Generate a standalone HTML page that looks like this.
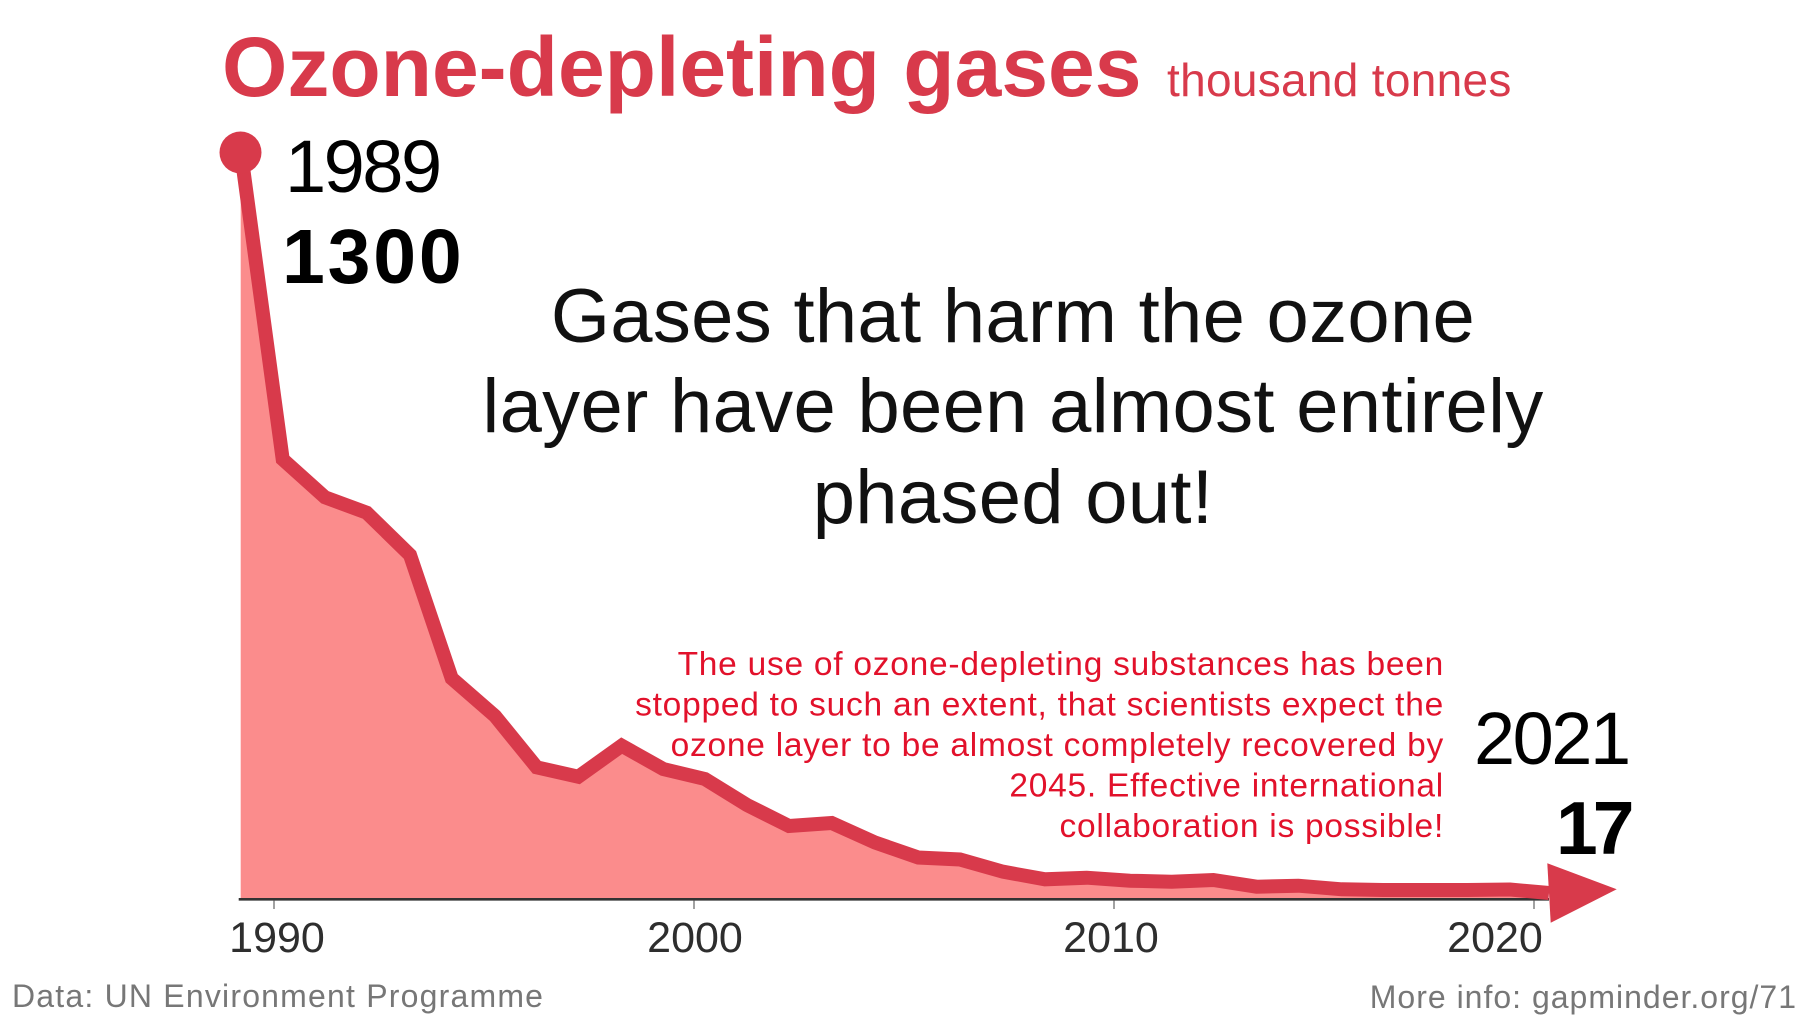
<!DOCTYPE html>
<html>
<head>
<meta charset="utf-8">
<style>
  html, body { margin: 0; padding: 0; background: #fff; }
  body { width: 1813px; height: 1020px; overflow: hidden; }
  svg { display: block; }
  text { font-family: "Liberation Sans", "DejaVu Sans", sans-serif; }
</style>
</head>
<body>
<svg width="1813" height="1020" viewBox="0 0 1813 1020" xmlns="http://www.w3.org/2000/svg">
  <rect x="0" y="0" width="1813" height="1020" fill="#ffffff"/>

  <!-- Title -->
  <text x="222" y="96" font-size="84" font-weight="bold" fill="#d83a4b">Ozone-depleting gases</text>
  <text x="1167" y="96" font-size="46" fill="#d83a4b" letter-spacing="0.3">thousand tonnes</text>

  <!-- Area fill -->
  <polygon fill="#fb8c8c" points="
    240.7,152.5 241,152.5 282.7,459.3 325,497.3 366.7,512.7 410,555 451.7,678.3 495,716
    536.7,767.3 578.3,776.7 621.7,745.7 663.3,769 705,779 747,805 789,826 831.7,823
    875,842.5 918.3,857.5 960,859.5 1003,871.7 1045,879.3 1086.7,877.7 1130,880.7
    1171.7,881.7 1213.3,880 1256.7,886.7 1298.3,885.7 1341.7,889.3 1383,890 1425,890
    1467,890 1510,889.5 1547,893 1547,899 240.7,899"/>

  <!-- Axis -->
  <line x1="238.7" y1="899.3" x2="1549" y2="899.3" stroke="#333333" stroke-width="2.6"/>
  <!-- ticks -->
  <g stroke="#8a8a8a" stroke-width="1.6">
    <line x1="274" y1="900.5" x2="274" y2="909"/>
    <line x1="694" y1="900.5" x2="694" y2="909"/>
    <line x1="1114" y1="900.5" x2="1114" y2="909"/>
    <line x1="1534" y1="900.5" x2="1534" y2="909"/>
  </g>

  <!-- Line -->
  <polyline fill="none" stroke="#d83a4b" stroke-width="14" stroke-linejoin="miter" stroke-miterlimit="4" points="
    241,152.5 282.7,459.3 325,497.3 366.7,512.7 410,555 451.7,678.3 495,716
    536.7,767.3 578.3,776.7 621.7,745.7 663.3,769 705,779 747,805 789,826 831.7,823
    875,842.5 918.3,857.5 960,859.5 1003,871.7 1045,879.3 1086.7,877.7 1130,880.7
    1171.7,881.7 1213.3,880 1256.7,886.7 1298.3,885.7 1341.7,889.3 1383,890 1425,890
    1467,890 1510,889.5 1549,893"/>

  <!-- Arrow head -->
  <polygon fill="#d83a4b" points="1547.3,863.3 1550.7,922.7 1616.7,889.3"/>

  <!-- Start dot -->
  <circle cx="240.5" cy="152.5" r="21" fill="#d83a4b"/>

  <!-- Start labels -->
  <text x="285" y="192" font-size="74" fill="#000" letter-spacing="-2.5">1989</text>
  <text x="282" y="283" font-size="77" font-weight="bold" fill="#000" letter-spacing="2.8">1300</text>

  <!-- End labels -->
  <text x="1474" y="764" font-size="74" fill="#000" letter-spacing="-2.5">2021</text>
  <text x="1556" y="854" font-size="75" font-weight="bold" fill="#000" letter-spacing="-5">17</text>

  <!-- Main message -->
  <g font-size="76" fill="#111" text-anchor="middle" letter-spacing="0.3">
    <text x="1013" y="342">Gases that harm the ozone</text>
    <text x="1013" y="432">layer have been almost entirely</text>
    <text x="1013" y="523">phased out!</text>
  </g>

  <!-- Red paragraph -->
  <g font-size="33.5" fill="#e2112b" text-anchor="end" letter-spacing="0.75">
    <text x="1444" y="675">The use of ozone-depleting substances has been</text>
    <text x="1444" y="715.5">stopped to such an extent, that scientists expect the</text>
    <text x="1444" y="756">ozone layer to be almost completely recovered by</text>
    <text x="1444" y="796.5">2045. Effective international</text>
    <text x="1444" y="837">collaboration is possible!</text>
  </g>

  <!-- Tick labels -->
  <g font-size="43" fill="#2e2e2e" text-anchor="middle">
    <text x="277" y="952">1990</text>
    <text x="695" y="952">2000</text>
    <text x="1111" y="952">2010</text>
    <text x="1495" y="952">2020</text>
  </g>

  <!-- Footer -->
  <text x="12" y="1007" font-size="32" fill="#777777" letter-spacing="1.2">Data: UN Environment Programme</text>
  <text x="1797" y="1008" font-size="32" fill="#777777" letter-spacing="1.0" text-anchor="end">More info: gapminder.org/71</text>
</svg>
</body>
</html>
